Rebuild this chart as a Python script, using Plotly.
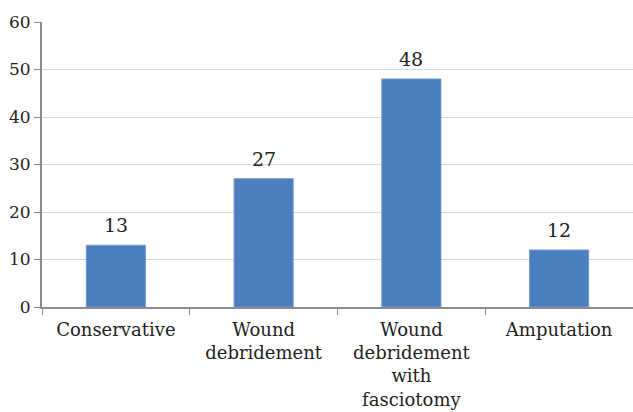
import plotly.graph_objects as go

categories = ["Conservative", "Wound<br>debridement", "Wound<br>debridement<br>with<br>fasciotomy", "Amputation"]
counts = [13, 27, 48, 12]
y_ticks = [0, 10, 20, 30, 40, 50, 60]

serif = "DejaVu Serif"
axis_gray = "#8c8c8c"
text_color = "#222222"

fig = go.Figure(
    go.Bar(
        x=categories,
        y=counts,
        width=0.4,
        marker=dict(color="#4a7ebf", line=dict(color="#6b9ad3", width=1)),
        hoverinfo="x+y",
    )
)

# value labels sitting a little above each bar
for cat, val in zip(categories, counts):
    fig.add_annotation(
        x=cat,
        y=val,
        text=str(val),
        showarrow=False,
        yanchor="bottom",
        yshift=7,
        font=dict(family=serif, size=19, color=text_color),
    )

fig.update_layout(
    width=633,
    height=412,
    margin=dict(l=42, r=0, t=22, b=105),
    paper_bgcolor="white",
    plot_bgcolor="white",
    showlegend=False,
    font=dict(family=serif, size=17, color=text_color),
)

fig.update_xaxes(
    type="category",
    range=[-0.5, 3.5],
    tickson="boundaries",
    ticks="outside",
    ticklen=6,
    tickcolor=axis_gray,
    showline=True,
    linecolor=axis_gray,
    linewidth=2,
    showgrid=False,
    tickangle=0,
    automargin=False,
    ticklabelstandoff=5,
    tickfont=dict(family=serif, size=18, color=text_color),
)

fig.update_yaxes(
    range=[0, 60],
    tickvals=y_ticks,
    ticks="outside",
    ticklen=6,
    tickcolor=axis_gray,
    showline=True,
    linecolor=axis_gray,
    linewidth=2,
    showgrid=True,
    gridcolor="#d9d9d9",
    gridwidth=1,
    zeroline=False,
    automargin=False,
    tickfont=dict(family=serif, size=17, color=text_color),
)

fig.write_html("out.html")
